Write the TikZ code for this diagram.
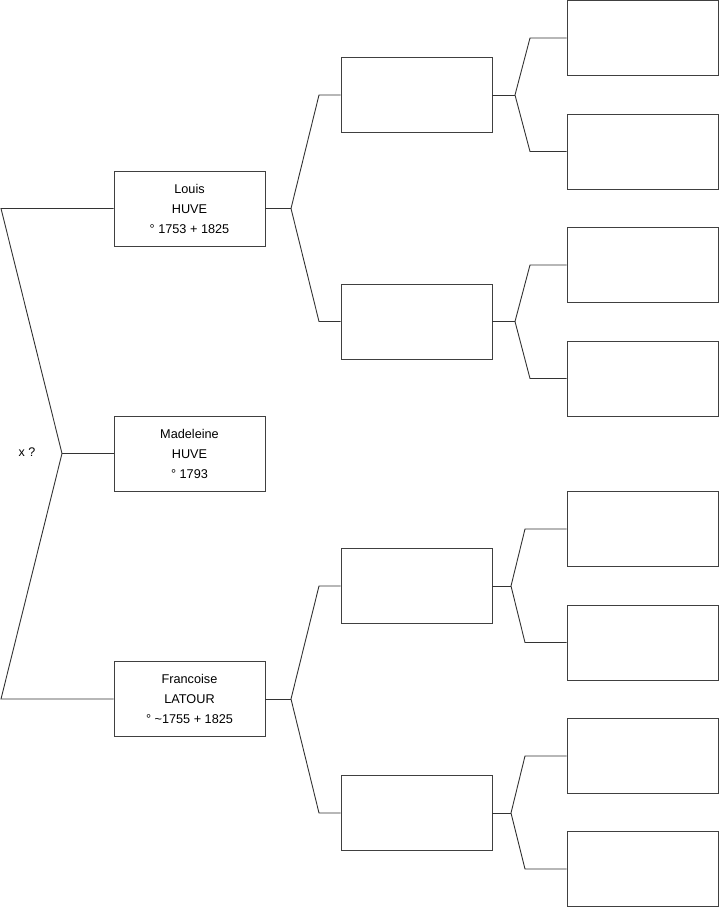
\documentclass[tikz,border=0pt]{standalone}
\usepackage{fontspec}
\setmainfont{Liberation Sans}
\begin{document}
\begin{tikzpicture}[x=1pt,y=-1pt,
  person/.style={draw=black!75,line width=0.9pt,fill=white,rectangle,inner sep=0pt,
    minimum width=151pt,minimum height=75pt,align=center,
    font=\fontsize{12.7}{20}\selectfont},
  link/.style={draw=black!80,line width=0.9pt}]
\useasboundingbox (0,0) rectangle (719,908);
% generation 1
\node[person] (louis) at (189.5,208.5) {Louis\\HUVE\\° 1753 + 1825};
\node[person] (madeleine) at (189.5,453.5) {Madeleine\\HUVE\\° 1793};
\node[person] (francoise) at (189.5,699) {Francoise\\LATOUR\\° \textasciitilde 1755 + 1825};
% generation 2
\node[person] (g2a) at (416.5,95) {};
\node[person] (g2b) at (416.5,321.5) {};
\node[person] (g2c) at (416.5,586) {};
\node[person] (g2d) at (416.5,813) {};
% generation 3
\node[person] (g3a) at (642.5,38) {};
\node[person] (g3b) at (642.5,151.5) {};
\node[person] (g3c) at (642.5,265) {};
\node[person] (g3d) at (642.5,378.5) {};
\node[person] (g3e) at (642.5,529) {};
\node[person] (g3f) at (642.5,642.5) {};
\node[person] (g3g) at (642.5,756) {};
\node[person] (g3h) at (642.5,869) {};
% label
\node[font=\fontsize{12.5}{15}\selectfont] (xq) at (27,452) {x ?};
% left fork
\coordinate (pa) at (1,208.5);
\coordinate (pm) at (62,453.5);
\coordinate (pf) at (1,699);
\draw[link] (louis.west) -- (pa) -- (pm) -- (pf) -- (francoise.west);
\draw[link] (pm) -- (madeleine.west);
% level 1 forks
\coordinate (fl) at (291,208.5);
\coordinate (fla) at (319,95);
\coordinate (flb) at (319,321.5);
\draw[link] (louis.east) -- (fl);
\draw[link] (g2a.west) -- (fla) -- (fl) -- (flb) -- (g2b.west);
\coordinate (ff) at (291,699);
\coordinate (ffa) at (319,586);
\coordinate (ffb) at (319,813);
\draw[link] (francoise.east) -- (ff);
\draw[link] (g2c.west) -- (ffa) -- (ff) -- (ffb) -- (g2d.west);
% level 2 forks
\coordinate (fa) at (515,95);
\coordinate (faa) at (530,38);
\coordinate (fab) at (530,151.5);
\draw[link] (g2a.east) -- (fa);
\draw[link] (g3a.west) -- (faa) -- (fa) -- (fab) -- (g3b.west);
\coordinate (fb) at (515,321.5);
\coordinate (fba) at (530,265);
\coordinate (fbb) at (530,378.5);
\draw[link] (g2b.east) -- (fb);
\draw[link] (g3c.west) -- (fba) -- (fb) -- (fbb) -- (g3d.west);
\coordinate (fc) at (511,586);
\coordinate (fca) at (525,529);
\coordinate (fcb) at (525,642.5);
\draw[link] (g2c.east) -- (fc);
\draw[link] (g3e.west) -- (fca) -- (fc) -- (fcb) -- (g3f.west);
\coordinate (fd) at (511,813);
\coordinate (fda) at (525,756);
\coordinate (fdb) at (525,869);
\draw[link] (g2d.east) -- (fd);
\draw[link] (g3g.west) -- (fda) -- (fd) -- (fdb) -- (g3h.west);
\end{tikzpicture}
\end{document}
